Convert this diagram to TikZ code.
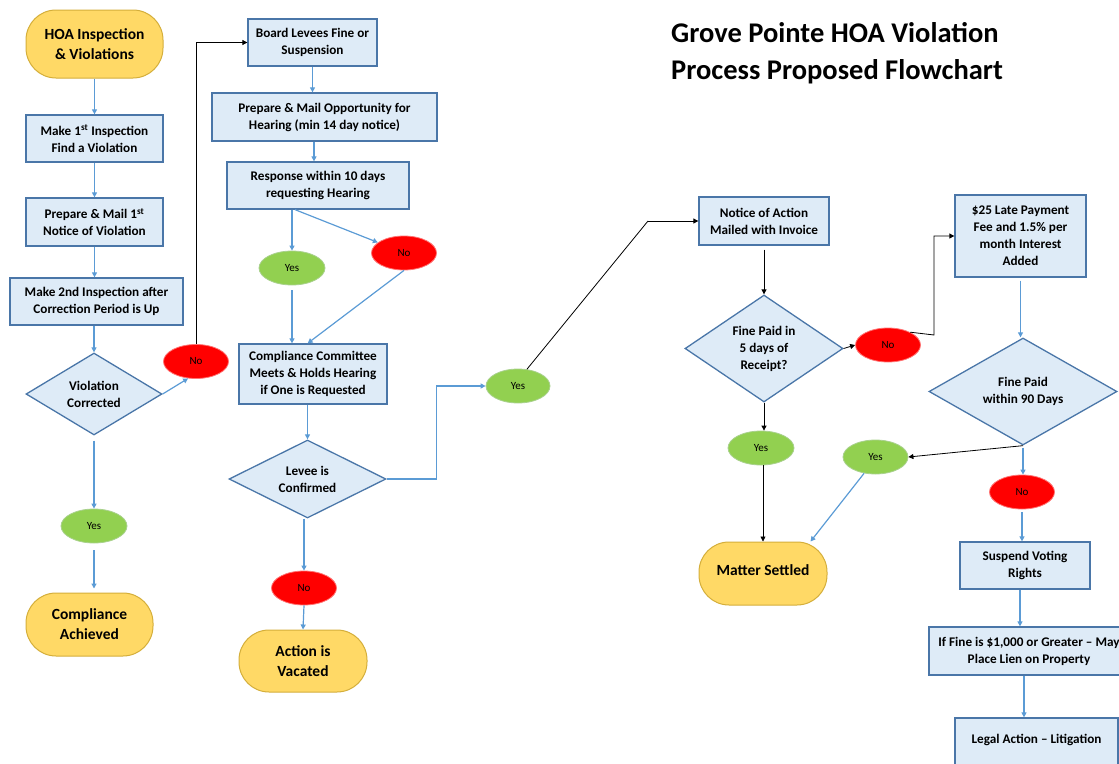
\documentclass[tikz,border=0pt]{standalone}
\usepackage{fontspec}
\setmainfont{Carlito}
\usetikzlibrary{shapes.geometric,arrows.meta}
\definecolor{boxfill}{HTML}{DEEBF7}
\definecolor{boxline}{HTML}{4A76A8}
\definecolor{arrblue}{HTML}{5B9BD5}
\definecolor{gold}{HTML}{FFD966}
\definecolor{goldline}{HTML}{D4AE3A}
\definecolor{yesgreen}{HTML}{92D050}
\definecolor{yesline}{HTML}{A9D18E}
\definecolor{nored}{HTML}{FF0000}
\tikzset{
  procbox/.style={draw=boxline, fill=boxfill, line width=1.3pt, inner sep=2pt, align=center,
    font=\bfseries\fontsize{13.2}{17}\selectfont},
  terminal/.style={draw=goldline, fill=gold, line width=1pt, rounded corners=30pt, align=center,
    font=\bfseries\fontsize{15.5}{20}\selectfont},
  decision/.style={diamond, draw=boxline, fill=boxfill, line width=1.3pt, inner sep=0pt, align=center,
    font=\bfseries\fontsize{13.2}{17}\selectfont},
  yesnode/.style={ellipse, draw=yesline, fill=yesgreen, line width=0.8pt, inner sep=0pt,
    minimum width=66pt, minimum height=34pt, font=\fontsize{11}{13}\selectfont},
  nonode/.style={ellipse, draw=red!55, fill=nored, line width=0.8pt, inner sep=0pt,
    minimum width=65pt, minimum height=34pt, font=\fontsize{11}{13}\selectfont},
  barrow/.style={draw=arrblue, line width=1.2pt, -{Triangle[length=5pt,width=5pt]}},
  karrow/.style={draw=black, line width=0.8pt, -{Triangle[length=5pt,width=5pt]}},
}
\begin{document}
\begin{tikzpicture}[x=1pt,y=-1pt]
\useasboundingbox (0,0) rectangle (1119,763);

% title
\node[anchor=north west, align=left, inner sep=0pt, font=\bfseries\fontsize{28.5}{37}\selectfont] (title) at (671,22)
  {Grove Pointe HOA Violation\\Process Proposed Flowchart};

% left column
\node[terminal, minimum width=137pt, minimum height=68pt] (start) at (94.5,44) {HOA Inspection\\\& Violations};
\node[procbox, minimum width=137pt, minimum height=47pt] (b1) at (94.5,138.5) {Make 1\textsuperscript{st} Inspection\\Find a Violation};
\node[procbox, minimum width=137pt, minimum height=48pt] (b2) at (94.5,222) {Prepare \& Mail 1\textsuperscript{st}\\Notice of Violation};
\node[procbox, minimum width=173pt, minimum height=47pt] (b3) at (96.5,301.5) {Make 2nd Inspection after\\Correction Period is Up};
\node[decision, minimum width=136pt, minimum height=82pt, aspect=1.66] (d1) at (94,394) {Violation\\Corrected};
\node[nonode] (no1) at (196,361.5) {No};
\node[yesnode] (yes1) at (94,526) {Yes};
\node[terminal, minimum width=127pt, minimum height=63pt] (comp) at (89.5,624.5) {Compliance\\Achieved};

% middle column
\node[procbox, minimum width=129pt, minimum height=47pt] (board) at (312.5,42.5) {Board Levees Fine or\\Suspension};
\node[procbox, minimum width=225pt, minimum height=48pt] (prep) at (324.5,117) {Prepare \& Mail Opportunity for\\Hearing (min 14 day notice)};
\node[procbox, minimum width=182pt, minimum height=47pt] (resp) at (318,185.5) {Response within 10 days\\requesting Hearing};
\node[yesnode] (yesA) at (292,268) {Yes};
\node[nonode] (noA) at (404,253) {No};
\node[procbox, minimum width=148pt, minimum height=60pt] (cc) at (313,374) {Compliance Committee\\Meets \& Holds Hearing\\if One is Requested};
\node[decision, minimum width=157pt, minimum height=78pt, aspect=2] (d2) at (307.5,479) {Levee is\\Confirmed};
\node[yesnode, minimum width=64pt] (yesB) at (518,386) {Yes};
\node[nonode] (noB) at (304,588) {No};
\node[terminal, minimum width=128pt, minimum height=62pt] (vac) at (303,661) {Action is\\Vacated};

% right part
\node[procbox, minimum width=130pt, minimum height=48pt] (notice) at (764,221) {Notice of Action\\Mailed with Invoice};
\node[decision, minimum width=158pt, minimum height=107pt, aspect=1.48] (f5) at (764,348.5) {Fine Paid in\\5 days of\\Receipt?};
\node[nonode] (noC) at (888,345) {No};
\node[procbox, minimum width=131pt, minimum height=82pt] (late) at (1020.5,236) {\$25 Late Payment\\Fee and 1.5\% per\\month Interest\\Added};
\node[decision, minimum width=188pt, minimum height=107pt, aspect=1.75] (f90) at (1023,391.5) {Fine Paid\\within 90 Days};
\node[yesnode, minimum width=65pt] (yesD) at (875.5,457) {Yes};
\node[yesnode] (yesC) at (761,448) {Yes};
\node[terminal, minimum width=128pt, minimum height=63pt] (ms) at (763,573.5) {\raisebox{6pt}{Matter Settled}};
\node[nonode] (noD) at (1022,492) {No};
\node[procbox, minimum width=130pt, minimum height=47pt] (sv) at (1025,565.5) {Suspend Voting\\Rights};
\node[procbox, minimum width=200pt, minimum height=48pt] (lien) at (1029,651) {If Fine is \$1,000 or Greater – May\\Place Lien on Property};
\node[procbox, minimum width=163pt, minimum height=62pt] (legal) at (1036.5,749) {Legal Action – Litigation\\[3pt]~};

% helper coordinates
\coordinate (x314) at (314,0);
\coordinate (x1020) at (1020,0);
\coordinate (x1024) at (1024,0);
\coordinate (k1) at (648,221);
\coordinate (k2) at (934,335);

% left column connectors
\draw[barrow] (start) -- (b1);
\draw[barrow] (b1) -- (b2);
\draw[barrow] (b2.south) -- (b2.south |- b3.north);
\draw[barrow] (d1.north |- b3.south) -- (d1.north);
\draw[barrow] (d1.east) -- (no1.245);
\draw[karrow] (no1.north) |- (board.west);
\draw[barrow, shorten <=5pt] (d1.south) -- (yes1.north);
\draw[barrow, shorten <=7pt, shorten >=4pt] (yes1.south) -- (yes1.south |- comp.north);

% middle connectors
\draw[barrow] (board.south) -- (board.south |- prep.north);
\draw[barrow] (prep.south -| x314) -- (resp.north -| x314);
\draw[barrow] (resp.south -| yesA) -- (yesA.north);
\draw[barrow] (resp.south -| yesA) ++(3,0) -- (noA.158);
\draw[barrow, shorten <=5pt] (yesA.south) -- (yesA.south |- cc.north);
\draw[barrow] (noA.south) -- (cc.100);
\draw[barrow] (d2.north |- cc.south) -- (d2.north);
\draw[barrow] (d2.east) -- ++(50,0) |- (yesB.west);
\draw[barrow] (noB.north |- d2.south) -- (noB.north);
\draw[barrow] (noB.south) -- (vac.north);
\draw[line width=0.8pt] (yesB.62) -- (k1);
\draw[karrow] (k1) -- (notice.west);

% right connectors
\draw[karrow, shorten <=4pt] (notice.south) -- (f5.north);
\draw[karrow] (f5.east) -- (noC.west);
\draw[karrow] (noC.30) -- (k2) |- (late.west);
\draw[barrow, shorten <=3pt] (late.south) -- (late.south |- f90.north);
\draw[karrow] (f90.south) -- (yesD.east);
\draw[barrow] (yesD.235) -- ([xshift=-17pt]ms.north east);
\draw[karrow] (f5.south) -- (f5.south |- yesC.north);
\draw[karrow] (yesC.south -| ms) -- (ms.north);
\draw[barrow, shorten <=2pt] (f90.south) -- (f90.south |- noD.north);
\draw[barrow, shorten <=3pt] (noD.south) -- (noD.south |- sv.north);
\draw[barrow] (sv.south -| x1020) -- (lien.north -| x1020);
\draw[barrow] (lien.south -| x1024) -- (legal.north -| x1024);
\end{tikzpicture}
\end{document}
